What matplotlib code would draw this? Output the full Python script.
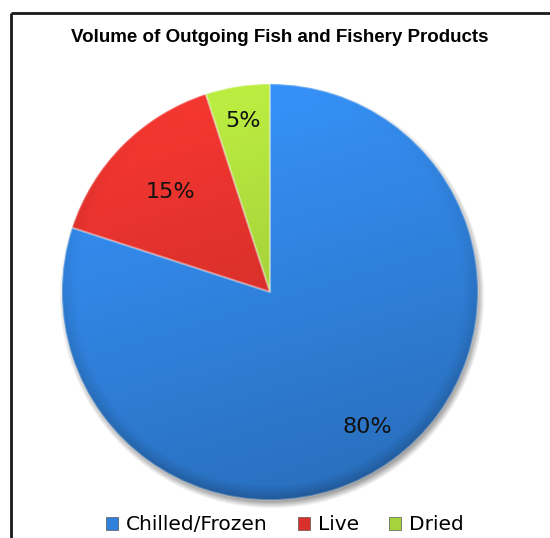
import numpy as np
import matplotlib.pyplot as plt
from matplotlib.patches import Wedge, Rectangle
from matplotlib.colors import to_rgb

labels = ["Chilled/Frozen", "Live", "Dried"]
shares = [80, 15, 5]
colors = ["#3081dc", "#d9302b", "#a6d23a"]
label_dist = [0.80, 0.68, 0.83]

W, H = 550, 538
fig = plt.figure(figsize=(W / 100, H / 100), dpi=100)
ax = fig.add_axes([0, 0, 1, 1])
ax.set_xlim(0, W)
ax.set_ylim(0, H)
ax.set_aspect("equal")
ax.axis("off")

# chart frame (only top and left edges are visible)
ax.plot([10.5, W], [H - 12.5, H - 12.5], color="#1a1a1a", lw=2.0, solid_capstyle="butt")
ax.plot([10.5, 10.5], [H - 12.5, 0], color="#1a1a1a", lw=2.0, solid_capstyle="butt")

ax.text(280, H - 38, "Volume of Outgoing Fish and Fishery Products",
        ha="center", va="center", fontsize=13.5, fontweight="bold",
        family=["Liberation Sans Narrow", "Liberation Sans", "DejaVu Sans"])

cx, cy, R = 270, H - 292, 208

# soft drop shadow under the pie
xs = np.linspace(cx - R - 20, cx + R + 20, 500)
ys = np.linspace(cy - R - 20, cy + R + 20, 500)
X, Y = np.meshgrid(xs, ys)
d = np.hypot(X - (cx + 2), Y - (cy - 4))
sh = np.clip((R + 5 - d) / 9, 0, 1) * 0.45
img = np.zeros(X.shape + (4,))
img[..., 3] = sh
ax.imshow(img, extent=(xs[0], xs[-1], ys[0], ys[-1]), origin="lower", zorder=1)

# shading field used to light each wedge
U = (X - cx) / R
V = (Y - cy) / R
r = np.hypot(U, V)
light = 1 + 0.13 * V - 0.04 * U - 0.18 * np.clip((r - 0.93) / 0.07, 0, 1) * (0.5 - 0.5 * V)

theta = 90.0
for lab, val, col, dist in zip(labels, shares, colors, label_dist):
    span = 360.0 * val / sum(shares)
    t1, t2 = theta - span, theta
    w = Wedge((cx, cy), R, t1, t2, facecolor="none", edgecolor="none", zorder=2)
    ax.add_patch(w)
    base = np.array(to_rgb(col))
    rgba = np.ones(X.shape + (4,))
    rgba[..., :3] = np.clip(base[None, None, :] * light[..., None], 0, 1)
    im = ax.imshow(rgba, extent=(xs[0], xs[-1], ys[0], ys[-1]), origin="lower", zorder=2)
    im.set_clip_path(w)
    # thin light bevel along the wedge borders
    ax.add_patch(Wedge((cx, cy), R, t1, t2, facecolor="none",
                       edgecolor=(1, 1, 1, 0.25), lw=1.5, zorder=3))
    mid = np.deg2rad((t1 + t2) / 2)
    ax.text(cx + dist * R * np.cos(mid), cy + dist * R * np.sin(mid), f"{val}%",
            ha="center", va="center", fontsize=16, color="#111111", zorder=4)
    theta = t1

# legend row
handles = [Rectangle((0, 0), 1, 1, facecolor=c, edgecolor="#555555", lw=0.5) for c in colors]
leg = ax.legend(handles, labels, loc="center", bbox_to_anchor=(285 / W, 13 / H),
                ncol=3, frameon=False, fontsize=14.5, handlelength=0.6, handleheight=0.6,
                handletextpad=0.4, columnspacing=1.5)

fig.savefig("out.png", dpi=100)
